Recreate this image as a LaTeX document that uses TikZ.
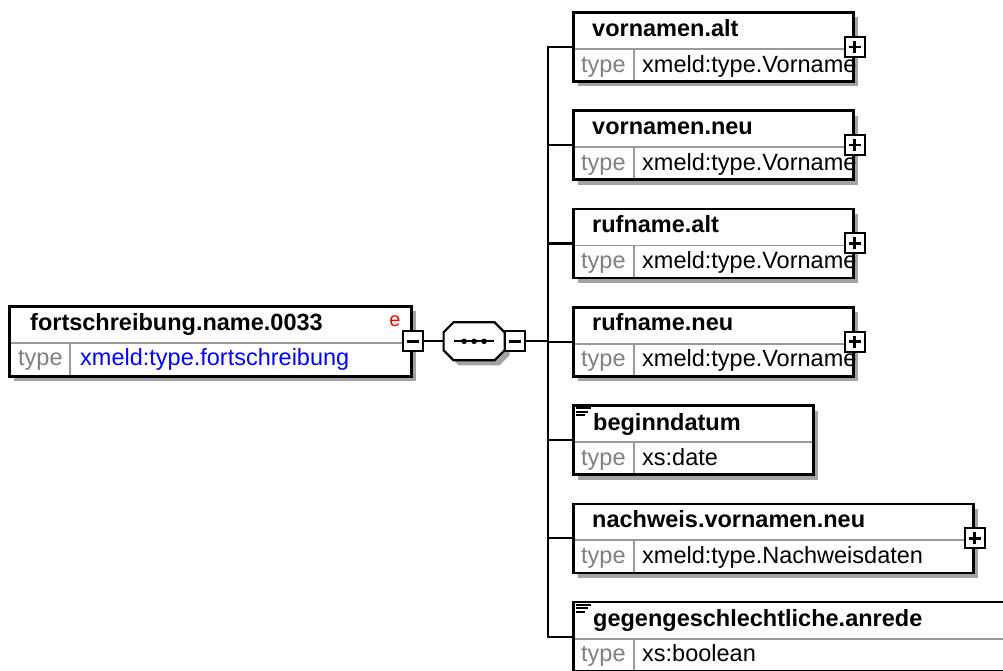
\documentclass[tikz,border=0pt]{standalone}
\usepackage{fontspec}
\setmainfont{Liberation Sans}
\usetikzlibrary{positioning,shadows}
\definecolor{shadegray}{HTML}{A3A3A3}
\definecolor{rulegray}{HTML}{9A9A9A}
\definecolor{typegray}{HTML}{808080}
\definecolor{valblue}{HTML}{0000FF}

\begin{document}
\begin{tikzpicture}[x=1pt, y=-1pt,
    elem/.style={draw, line width=2.6pt, fill=white, inner sep=0pt, anchor=north west, minimum height=69pt,
      drop shadow={shadow xshift=5pt, shadow yshift=-5pt, fill=shadegray, opacity=1},
      path picture={\draw[rulegray, line width=1.8pt]
        ([yshift=-36.5pt]path picture bounding box.north west) -- ([yshift=-36.5pt]path picture bounding box.north east)
        ([shift={(60.5pt,-36.5pt)}]path picture bounding box.north west) -- ([xshift=60.5pt]path picture bounding box.south west);}},
    elname/.style={font=\fontsize{23.5}{28}\selectfont\bfseries, anchor=base west, inner sep=0pt},
    eltype/.style={font=\fontsize{23.5}{28}\selectfont, text=typegray, anchor=base west, inner sep=0pt},
    elval/.style={font=\fontsize{23.5}{28}\selectfont, anchor=base west, inner sep=0pt},
    btn/.style={draw, fill=white, line width=2pt, minimum size=20pt, inner sep=0pt},
    btnplus/.style={btn, path picture={\draw[line width=2.6pt]
        ([xshift=-6pt]path picture bounding box.center) -- ([xshift=6pt]path picture bounding box.center)
        ([yshift=-6pt]path picture bounding box.center) -- ([yshift=6pt]path picture bounding box.center);}},
    btnminus/.style={btn, path picture={\draw[line width=2.6pt]
        ([xshift=-6pt]path picture bounding box.center) -- ([xshift=6pt]path picture bounding box.center);}},
    seqbox/.style={minimum width=61pt, minimum height=38pt, inner sep=0pt, outer sep=0pt},
    octa/.style={draw, line width=2.2pt, fill=white,
      drop shadow={shadow xshift=5pt, shadow yshift=-5pt, fill=shadegray, opacity=1}},
    conn/.style={line width=2.2pt},
    icon/.style={line width=1.8pt}
  ]
    \clip (0,0) rectangle (1003,670);

    % root element
    \node[elem, minimum width=402pt, minimum height=70pt] (fsn) at (8,305) {};
    \node[elname] (fsn-n) at ([shift={(22,25)}]fsn.north west) {fortschreibung.name.0033};
    \node[eltype] (fsn-t) at ([shift={(10,60)}]fsn.north west) {type};
    \node[elval, text=valblue] (fsn-v) at ([shift={(72,60)}]fsn.north west) {xmeld:type.fortschreibung};
    \node[font=\fontsize{20}{24}\selectfont, text=red, anchor=base east, inner sep=0pt] (fsn-e) at ([shift={(-12,21)}]fsn.north east) {e};
    \node[btnminus] (fsn-b) at (fsn.east) {};

    % sequence
    \node[seqbox, right=20pt of fsn-b] (sq) {};
    \draw[octa] ([xshift=10pt]sq.north west) -- ([xshift=-10pt]sq.north east) -- ([yshift=-10pt]sq.north east)
      -- ([yshift=10pt]sq.south east) -- ([xshift=-10pt]sq.south east) -- ([xshift=10pt]sq.south west)
      -- ([yshift=10pt]sq.south west) -- ([yshift=-10pt]sq.north west) -- cycle;
    \node[btnminus] (sq-b) at ([xshift=10pt]sq.east) {};
    \draw[line width=2.2pt] ([xshift=-20pt]sq.center) -- ([xshift=20pt]sq.center);
    \fill ([xshift=-10pt]sq.center) circle (2.8pt) (sq.center) circle (2.8pt) ([xshift=10pt]sq.center) circle (2.8pt);
    \coordinate (bus) at ([xshift=22pt]sq-b.east);

    % child elements
    \node[elem, minimum width=280pt] (vnalt) at (572,11) {};
    \node[elem, minimum width=280pt] (vnneu) at (572,109.3) {};
    \node[elem, minimum width=280pt] (rnalt) at (572,207.6) {};
    \node[elem, minimum width=280pt] (rnneu) at (572,305.9) {};
    \node[elem, minimum width=240pt] (bgdat) at (572,404.2) {};
    \node[elem, minimum width=400pt] (nwvn)  at (572,502.5) {};
    \node[elem, minimum width=450pt] (ggan)  at (572,600.8) {};

    \node[btnplus] (vnalt-b) at (vnalt.east) {};
    \node[btnplus] (vnneu-b) at (vnneu.east) {};
    \node[btnplus] (rnalt-b) at (rnalt.east) {};
    \node[btnplus] (rnneu-b) at (rnneu.east) {};
    \node[btnplus] (nwvn-b)  at (nwvn.east) {};

    \node[elname] at ([shift={(20,25)}]vnalt.north west) {vornamen.alt};
    \node[eltype] at ([shift={(9,61)}]vnalt.north west) {type};
    \node[elval]  at ([shift={(70,61)}]vnalt.north west) {xmeld:type.Vorname};
    \node[elname] at ([shift={(20,25)}]vnneu.north west) {vornamen.neu};
    \node[eltype] at ([shift={(9,61)}]vnneu.north west) {type};
    \node[elval]  at ([shift={(70,61)}]vnneu.north west) {xmeld:type.Vorname};
    \node[elname] at ([shift={(20,25)}]rnalt.north west) {rufname.alt};
    \node[eltype] at ([shift={(9,61)}]rnalt.north west) {type};
    \node[elval]  at ([shift={(70,61)}]rnalt.north west) {xmeld:type.Vorname};
    \node[elname] at ([shift={(20,25)}]rnneu.north west) {rufname.neu};
    \node[eltype] at ([shift={(9,61)}]rnneu.north west) {type};
    \node[elval]  at ([shift={(70,61)}]rnneu.north west) {xmeld:type.Vorname};
    \node[elname] at ([shift={(21,26)}]bgdat.north west) {beginndatum};
    \node[eltype] at ([shift={(9,61)}]bgdat.north west) {type};
    \node[elval]  at ([shift={(70,61)}]bgdat.north west) {xs:date};
    \node[elname] at ([shift={(20,25)}]nwvn.north west) {nachweis.vornamen.neu};
    \node[eltype] at ([shift={(9,61)}]nwvn.north west) {type};
    \node[elval]  at ([shift={(70,61)}]nwvn.north west) {xmeld:type.Nachweisdaten};
    \node[elname] at ([shift={(21,26)}]ggan.north west) {gegengeschlechtliche.anrede};
    \node[eltype] at ([shift={(9,61)}]ggan.north west) {type};
    \node[elval]  at ([shift={(70,61)}]ggan.north west) {xs:boolean};

    % simple content marks
    \draw[icon] ([shift={(4,4)}]bgdat.north west) -- ++(15,0) ([shift={(4,7.5)}]bgdat.north west) -- ++(12,0) ([shift={(4,11)}]bgdat.north west) -- ++(9,0);
    \draw[icon] ([shift={(4,4)}]ggan.north west) -- ++(15,0) ([shift={(4,7.5)}]ggan.north west) -- ++(12,0) ([shift={(4,11)}]ggan.north west) -- ++(9,0);

    % connectors
    \draw[conn] (fsn-b.east) -- (sq.west);
    \draw[conn] (sq-b.east) -- (bus);
    \draw[conn] (bus) |- (vnalt.west);
    \draw[conn] (bus) |- (vnneu.west);
    \draw[conn] (bus) |- (rnalt.west);
    \draw[conn] (bus) |- (rnneu.west);
    \draw[conn] (bus) |- (bgdat.west);
    \draw[conn] (bus) |- (nwvn.west);
    \draw[conn] (bus) |- (ggan.west);
  \end{tikzpicture}
\end{document}
